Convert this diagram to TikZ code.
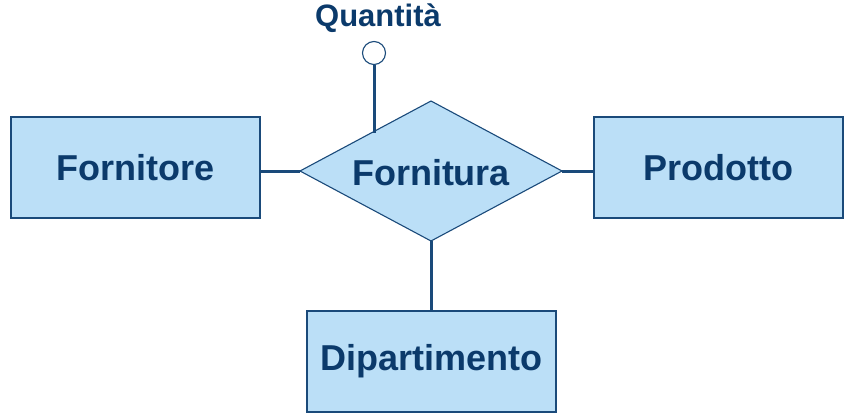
\documentclass[tikz,border=0pt]{standalone}
\usepackage{fontspec}
\setmainfont{Liberation Sans}
\usetikzlibrary{shapes.geometric}
\definecolor{erfill}{HTML}{BBDFF7}
\definecolor{erline}{HTML}{1A4A7A}
\definecolor{ertext}{HTML}{0B3A6B}
\begin{document}
\begin{tikzpicture}[x=1pt,y=-1pt,
  entity/.style={draw=erline,line width=1.3pt,fill=erfill,minimum width=249pt,minimum height=101pt,inner sep=0pt,font=\fontsize{36}{40}\selectfont\bfseries,text=ertext},
  relation/.style={draw=erline,line width=1.1pt,fill=erfill,diamond,minimum width=262pt,minimum height=140pt,inner sep=0pt,outer sep=0pt},
  reltext/.style={font=\fontsize{36}{40}\selectfont\bfseries,text=ertext,inner sep=0pt},
  attr/.style={circle,draw=erline,line width=1.1pt,fill=white,minimum size=23pt,inner sep=0pt},
  link/.style={draw=erline,line width=3pt},
  lbl/.style={font=\fontsize{31}{34}\selectfont\bfseries,text=ertext}]
\useasboundingbox (0,0) rectangle (853,417);
\node[entity] (forn) at (135.5,167.5) {Fornitore};
\node[entity] (prod) at (718.5,167.5) {Prodotto};
\node[entity] (dip) at (431.5,361.5) {Dipartimento};
\node[relation] (rel) at (431,171) {};
\node[reltext] (relt) at (431,173) {Fornitura};
\node[attr] (q) at (374,53) {};
\node[lbl,anchor=base] (ql) at (378,27) {Quantità};
\coordinate (qa) at (374,133);
\draw[link] (forn.east |- rel.west) -- (rel.west);
\draw[link] (rel.east) -- (prod.west |- rel.east);
\draw[link] (rel.south) -- (dip.north -| rel.south);
\draw[link] (q.south) -- (qa);
\end{tikzpicture}
\end{document}
